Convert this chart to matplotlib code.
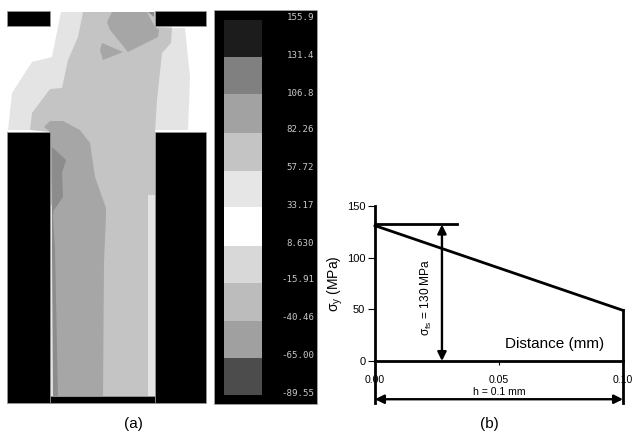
import matplotlib
matplotlib.use('Agg')
import matplotlib.pyplot as plt
from matplotlib.patches import Polygon, Rectangle

plt.rcParams['font.family'] = ['Liberation Sans', 'DejaVu Sans']
plt.rcParams['mathtext.fontset'] = 'custom'
plt.rcParams['mathtext.rm'] = 'Liberation Sans'
plt.rcParams['mathtext.it'] = 'Liberation Sans'
plt.rcParams['mathtext.default'] = 'regular'

W, H = 633, 434

# contour regions of panel (a), pixel positions
light_region = [(61, 12), (172, 12), (172, 28), (185, 28), (190, 77), (188, 130), (8, 130),
                (12, 93), (32, 62), (52, 57)]
light_strip_right = [(148, 195), (155, 195), (155, 396), (148, 396)]
light_strip_left = [(50, 205), (54, 205), (54, 396), (50, 396)]
medium_region = [(83, 12), (155, 12), (155, 27), (172, 28), (171, 43), (162, 53), (157, 100),
                 (155, 132), (155, 195), (148, 213), (148, 396), (50, 396), (50, 132),
                 (30, 130), (32, 113), (50, 89), (62, 88), (68, 60), (78, 37)]
dark_region = [(44, 127), (50, 121), (63, 121), (80, 130), (90, 143), (95, 177), (106, 208),
               (106, 215), (104, 262), (103, 396), (57, 396), (54, 300), (52, 215), (50, 132)]
darker_region = [(52, 147), (66, 160), (62, 173), (63, 197), (54, 210), (53, 215), (55, 250),
                 (58, 396), (53, 396), (52, 250)]
top_patch = [(112, 12), (147, 12), (155, 27), (159, 30), (158, 37), (128, 52), (110, 30), (107, 22)]
top_corner = [(148, 12), (154, 12), (154, 17)]
small_patch = [(102, 43), (123, 52), (103, 60), (100, 50)]

# black die blocks: x0, y0, x1, y1
blocks = [(7, 11, 50, 26), (155, 11, 206, 26), (7, 132, 50, 403), (155, 132, 206, 403), (50, 396, 155, 403)]

# colour scale
scale_labels = ['155.9', '131.4', '106.8', '82.26', '57.72', '33.17', '8.630',
                '-15.91', '-40.46', '-65.00', '-89.55']
scale_label_y = [17, 55, 93, 130, 168, 205, 243, 280, 318, 355, 393]
swatch_edges = [20, 57, 94, 133, 171, 207, 246, 283, 321, 358, 395]
swatch_colors = ['#1c1c1c', '#808080', '#a2a2a2', '#c4c4c4', '#e6e6e6', '#ffffff',
                 '#d8d8d8', '#bcbcbc', '#a0a0a0', '#4c4c4c']

# panel (b)
stress_x = [0.0, 0.1]
stress_y = [131, 49]
cap_x = [0.0, 0.033]
cap_y = [132.5, 132.5]
arrow_x = 0.027
arrow_y = [0, 132]
h_arrow_y = -37
x_ticks = [0.0, 0.05, 0.1]
x_tick_labels = ['0.00', '0.05', '0.10']
y_ticks = [0, 50, 100, 150]

fig = plt.figure(figsize=(W / 100, H / 100), dpi=100)

# whole figure axes in pixels for panel (a) and the scale
bg = fig.add_axes([0, 0, 1, 1])
bg.set_xlim(0, W)
bg.set_ylim(H, 0)
bg.axis('off')

bg.add_patch(Polygon(light_region, fc='#e4e4e4', ec='none'))
bg.add_patch(Polygon(medium_region, fc='#c4c4c4', ec='none'))
bg.add_patch(Polygon(light_strip_right, fc='#e4e4e4', ec='none'))
bg.add_patch(Polygon(light_strip_left, fc='#e4e4e4', ec='none'))
bg.add_patch(Polygon(dark_region, fc='#a6a6a6', ec='none'))
bg.add_patch(Polygon(darker_region, fc='#8c8c8c', ec='none'))
bg.add_patch(Polygon(top_patch, fc='#a6a6a6', ec='none'))
bg.add_patch(Polygon(top_corner, fc='#8c8c8c', ec='none'))
bg.add_patch(Polygon(small_patch, fc='#a6a6a6', ec='none'))
for x0, y0, x1, y1 in blocks:
    bg.add_patch(Rectangle((x0, y0), x1 - x0, y1 - y0, fc='black', ec='#999999', lw=0.5))

bg.add_patch(Rectangle((214, 10), 103, 394, fc='black', ec='#aaaaaa', lw=0.5))
for i, c in enumerate(swatch_colors):
    bg.add_patch(Rectangle((224, swatch_edges[i]), 38, swatch_edges[i + 1] - swatch_edges[i], fc=c, ec='none'))
for lab, y in zip(scale_labels, scale_label_y):
    bg.text(314, y, lab, color='#c8c8c8', fontsize=6.6, family='DejaVu Sans Mono', ha='right', va='center')

bg.text(133, 424, '(a)', fontsize=11, ha='center', va='center')
bg.text(489, 424, '(b)', fontsize=11, ha='center', va='center')

# panel (b) as a real axes
ax = fig.add_axes([375 / W, 1 - 361 / H, 248 / W, 155 / H])
ax.patch.set_alpha(0)
ax.set_xlim(0, 0.1)
ax.set_ylim(0, 150)
for s in ax.spines.values():
    s.set_visible(False)
ax.set_xticks(x_ticks)
ax.set_xticklabels(x_tick_labels)
ax.set_yticks(y_ticks)
ax.tick_params(axis='x', labelsize=7.6, length=3, width=0.8, pad=7)
ax.tick_params(axis='y', labelsize=8, length=5, width=0.8, pad=2)
for t in ax.get_xticklabels() + ax.get_yticklabels():
    t.set_clip_on(True)

lw = 2.0
ax.plot(stress_x, stress_y, color='black', lw=lw, clip_on=False, zorder=5)
ax.plot(cap_x, cap_y, color='black', lw=lw, clip_on=False, zorder=5)
ax.plot([0, 0.1], [0, 0], color='black', lw=lw, clip_on=False, zorder=5)
ax.plot([0, 0], [h_arrow_y - 4, 150], color='black', lw=lw, clip_on=False, zorder=5)
ax.plot([0.1, 0.1], [h_arrow_y - 4, stress_y[1]], color='black', lw=lw, clip_on=False, zorder=5)

ax.annotate('', xy=(arrow_x, arrow_y[1]), xytext=(arrow_x, arrow_y[0]), annotation_clip=False,
            arrowprops=dict(arrowstyle='<|-|>', color='black', lw=1.7, mutation_scale=13, shrinkA=0, shrinkB=0))
ax.annotate('', xy=(0.1, h_arrow_y), xytext=(0, h_arrow_y), annotation_clip=False,
            arrowprops=dict(arrowstyle='<|-|>', color='black', lw=1.7, mutation_scale=13, shrinkA=0, shrinkB=0))

ax.set_ylabel(r'$\sigma_{y}$ (MPa)', fontsize=10, labelpad=1)
ax.text(0.0725, 16, 'Distance (mm)', fontsize=11, ha='center', va='center')
ax.text(0.0209, 62, r'$\sigma_{fs}$ = 130 MPa', fontsize=8.6, rotation=90, ha='center', va='center')
ax.text(0.05, -30, 'h = 0.1 mm', fontsize=7.6, ha='center', va='center')

fig.savefig('out.png', dpi=100)
